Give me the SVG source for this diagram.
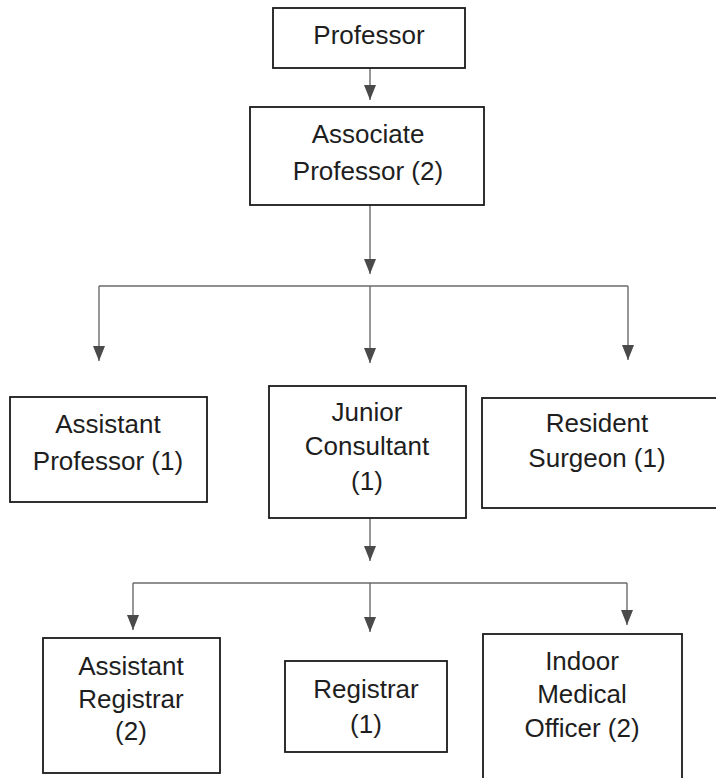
<svg xmlns="http://www.w3.org/2000/svg" width="716" height="778" viewBox="0 0 716 778">
<defs>
<marker id="ah" viewBox="0 0 15 12" markerWidth="15" markerHeight="12" refX="15" refY="6" orient="auto" markerUnits="userSpaceOnUse">
<path d="M0,0 L15,6 L0,12 z" fill="#4a4a4a"/>
</marker>
<style>
.box{fill:#fff;stroke:#1a1a1a;stroke-width:1.8}
.t{font-family:"Liberation Sans",Arial,sans-serif;font-size:26px;fill:#1e1e1e;text-anchor:middle}
.c{fill:none;stroke:#6a6a6a;stroke-width:1.4}
</style>
</defs>
<rect width="716" height="778" fill="#fff"/>
<g id="connectors">
<path class="c" d="M370,68 V100" marker-end="url(#ah)"/>
<path class="c" d="M370,205 V274" marker-end="url(#ah)"/>
<path class="c" d="M99,286 H628"/>
<path class="c" d="M99,286 V361" marker-end="url(#ah)"/>
<path class="c" d="M370,286 V363" marker-end="url(#ah)"/>
<path class="c" d="M628,286 V360" marker-end="url(#ah)"/>
<path class="c" d="M370,518 V561" marker-end="url(#ah)"/>
<path class="c" d="M133,583 H627"/>
<path class="c" d="M133,583 V630" marker-end="url(#ah)"/>
<path class="c" d="M370,583 V632" marker-end="url(#ah)"/>
<path class="c" d="M627,583 V625" marker-end="url(#ah)"/>
</g>
<g id="professor">
<rect class="box" x="273" y="8" width="192" height="60"/>
<text class="t" x="369" y="44">Professor</text>
</g>
<g id="associate-professor">
<rect class="box" x="250" y="107" width="234" height="98"/>
<text class="t" x="368" y="143">Associate</text>
<text class="t" x="368" y="180">Professor (2)</text>
</g>
<g id="assistant-professor">
<rect class="box" x="10" y="397" width="197" height="105"/>
<text class="t" x="108" y="433">Assistant</text>
<text class="t" x="108" y="470">Professor (1)</text>
</g>
<g id="junior-consultant">
<rect class="box" x="269" y="386" width="197" height="132"/>
<text class="t" x="367" y="421">Junior</text>
<text class="t" x="367" y="455">Consultant</text>
<text class="t" x="367" y="490">(1)</text>
</g>
<g id="resident-surgeon">
<rect class="box" x="482" y="398" width="240" height="110"/>
<text class="t" x="597" y="432">Resident</text>
<text class="t" x="597" y="467">Surgeon (1)</text>
</g>
<g id="assistant-registrar">
<rect class="box" x="43" y="638" width="177" height="135"/>
<text class="t" x="131" y="675">Assistant</text>
<text class="t" x="131" y="708">Registrar</text>
<text class="t" x="131" y="740">(2)</text>
</g>
<g id="registrar">
<rect class="box" x="285" y="661" width="162" height="91"/>
<text class="t" x="366" y="698">Registrar</text>
<text class="t" x="366" y="733">(1)</text>
</g>
<g id="indoor-medical-officer">
<rect class="box" x="483" y="634" width="199" height="160"/>
<text class="t" x="582" y="670">Indoor</text>
<text class="t" x="582" y="703">Medical</text>
<text class="t" x="582" y="737">Officer (2)</text>
</g>
</svg>
